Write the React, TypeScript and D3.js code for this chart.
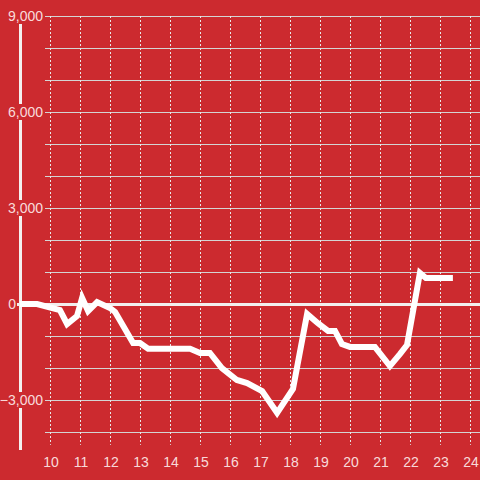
import * as d3 from "d3";
import React from "react";

const hours = [
  9.0, 9.57, 10.33, 10.57, 10.9, 11.07, 11.27, 11.57, 12.0, 12.17, 12.77, 13.0,
  13.27, 14.67, 15.0, 15.33, 15.73, 16.23, 16.57, 17.07, 17.57, 18.1, 18.57,
  18.93, 19.27, 19.5, 19.73, 20.0, 20.83, 21.33, 21.67, 21.9, 22.33, 22.53, 23.43,
];
const values = [
  0, 0, -190, -625, -375, 190, -220, 60, -125, -250, -1220, -1220, -1400, -1400,
  -1530, -1530, -2000, -2375, -2470, -2720, -3400, -2650, -310, -600, -840,
  -840, -1250, -1340, -1340, -1940, -1560, -1280, 970, 810, 810,
];
const xTicks = [10, 11, 12, 13, 14, 15, 16, 17, 18, 19, 20, 21, 22, 23, 24];
const yLabels = [9000, 6000, 3000, 0, -3000];
const yGrid = d3.range(-4000, 9001, 1000);

const W = 480;
const H = 480;
const bg = "#cc2a2f";
const labelColor = "rgba(255,240,240,0.9)";

export default function App() {
  const x = d3.scaleLinear().domain([9, 24]).range([20, 470]);
  const y = d3.scaleLinear().domain([-3000, 9000]).range([400, 16]);

  const line = d3
    .line<number>()
    .x((_, i) => x(hours[i]))
    .y((d) => y(d));

  const fmt = d3.format(",");

  return (
    <div style={{ position: "fixed", left: 0, top: 0 }}>
      <svg width={W} height={H} style={{ display: "block", fontFamily: "'Liberation Sans', Arial, sans-serif" }}>
        <rect width={W} height={H} fill={bg} />

        {/* horizontal grid */}
        {yGrid.map((v) => (
          <line key={"h" + v} x1={45} x2={W} y1={y(v) + 0.5} y2={y(v) + 0.5} stroke="#d4d4d4" strokeWidth={1} />
        ))}

        {/* vertical dashed grid */}
        {xTicks.map((t) => (
          <line
            key={"v" + t}
            x1={Math.round(x(t)) + 0.5}
            x2={Math.round(x(t)) + 0.5}
            y1={y(9000)}
            y2={y(-4400)}
            stroke="#e8e8e8"
            strokeWidth={1}
            strokeDasharray="2,2"
          />
        ))}

        {/* y axis line */}
        <line x1={20.5} x2={20.5} y1={24} y2={450} stroke="#f4f0f0" strokeWidth={3} />

        {/* zero line */}
        <line x1={17} x2={W} y1={y(0) + 0.5} y2={y(0) + 0.5} stroke="#f2eeee" strokeWidth={3} />

        {/* y labels */}
        {yLabels.map((v) => {
          const isZero = v === 0;
          const tx = isZero ? 16 : 43;
          return (
            <g key={"yl" + v}>
              {!isZero && <rect x={4} y={y(v) - 8} width={40} height={16} fill={bg} />}
              <text
                x={tx}
                y={y(v)}
                dy="0.35em"
                textAnchor="end"
                fontSize={14}
                fill={labelColor}
              >
                {fmt(v)}
              </text>
            </g>
          );
        })}

        {/* x labels */}
        {xTicks.map((t) => (
          <text key={"xl" + t} x={x(t) + 1} y={467} textAnchor="middle" fontSize={14} fill={labelColor}>
            {t}
          </text>
        ))}

        {/* data line */}
        <path d={line(values) || ""} fill="none" stroke="#ffffff" strokeWidth={6} strokeLinejoin="miter" />
      </svg>
    </div>
  );
}
